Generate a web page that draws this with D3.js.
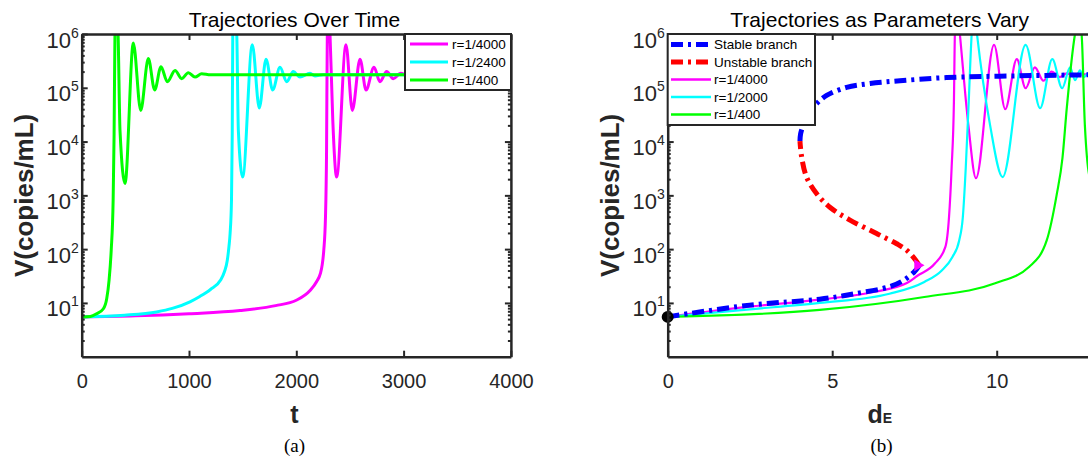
<!DOCTYPE html>
<html>
<head>
<meta charset="utf-8">
<title>Trajectories</title>
<script src="https://d3js.org/d3.v7.min.js"></script>
<style>
  body { margin: 0; background: #fff; }
  svg { display: block; font-family: "Liberation Sans", Arial, sans-serif; }
  .axis path, .axis line { stroke: #262626; }
  .axis path { stroke-width: 2.5; }
  .axis line { stroke-width: 2; }
  .axis text { fill: #262626; font-size: 20px; }
</style>
</head>
<body>
<div id="chart"></div>
<script>
// (a) trajectories over time, V in copies/mL
const tMag = [0, 500, 1000, 1475, 1807, 2000, 2128, 2190, 2224, 2242, 2256, 2272, 2282, 2289, 2302, 2314, 2340, 2376, 2463, 2522, 2594, 2650, 2724, 2780, 2842, 2904, 2973, 3030, 3300];
const vMag = [5.5, 5.75, 6.3, 7.2, 8.9, 11.2, 17, 25, 35, 52, 95, 400, 6900, 1e6, 2.8e6, 1e6, 2.5e4, 2190, 6.3e5, 3.8e4, 3.4e5, 9.1e4, 2.4e5, 1.3e5, 2.0e5, 1.48e5, 1.86e5, 1.72e5, 1.74e5];

const tCyan = [0, 400, 699, 844, 1009, 1101, 1200, 1293, 1330, 1357, 1372, 1383, 1396, 1403, 1408, 1426, 1445, 1460, 1500, 1590, 1655, 1718, 1780, 1848, 1911, 1972, 2034, 2128, 2174, 2250, 3300];
const vCyan = [5.5, 5.9, 6.8, 7.9, 10.5, 13.2, 17.8, 26.3, 38, 62, 110, 195, 810, 1.4e4, 1e6, 2.8e6, 1e6, 1.6e4, 2190, 6.3e5, 4.2e4, 3.4e5, 9.1e4, 2.4e5, 1.3e5, 2.0e5, 1.58e5, 1.86e5, 1.66e5, 1.74e5, 1.74e5];

const tGreen = [0, 80, 140, 202, 233, 255, 275, 293, 302, 310, 325, 339, 357, 404, 481, 550, 621, 680, 739, 798, 870, 932, 994, 1056, 1118, 1200, 3300];
const vGreen = [5.5, 5.6, 6.3, 7.8, 12, 26.3, 95, 810, 1.4e4, 1e6, 2.8e6, 1e6, 1.6e4, 1660, 6.8e5, 3.8e4, 3.5e5, 9.1e4, 2.45e5, 1.3e5, 2.1e5, 1.48e5, 1.9e5, 1.58e5, 1.82e5, 1.74e5, 1.74e5];

// (b) trajectories as d_E varies, with the equilibrium branches
const dStableLow = [0, 2.49, 4.62, 5.68, 6.74, 7.17, 7.48, 7.62, 7.64];
const vStableLow = [5.5, 9.1, 11.7, 14.8, 20, 26.3, 37, 47, 50];
const dUnstable = [7.64, 7.54, 7.27, 6.96, 6.35, 5.54, 4.93, 4.53, 4.22, 4.07, 4.02];
const vUnstable = [50, 62, 95, 126, 195, 347, 600, 1070, 2190, 5250, 1.02e4];
const dStableUp = [4.02, 4.04, 4.12, 4.30, 4.53, 4.83, 5.44, 6.15, 7.06, 8.48, 10.5, 12.74, 15];
const vStableUp = [1.02e4, 1.4e4, 2.0e4, 3.5e4, 5.1e4, 7.2e4, 1.02e5, 1.2e5, 1.35e5, 1.55e5, 1.66e5, 1.74e5, 1.78e5];

const dMag = [0, 2.49, 4.62, 6.21, 7.27, 7.59, 8.12, 8.44, 8.55, 8.63, 8.70, 8.73, 8.81, 8.88, 9.14, 9.37, 9.92, 10.26, 10.61, 10.88, 11.16, 11.42, 11.67, 11.92, 12.13, 12.33, 12.6, 15];
const vMagB = [5.5, 8.5, 11.5, 15.8, 23.4, 32, 54, 110, 390, 3300, 5.6e4, 1e6, 2.8e6, 1e6, 2.0e4, 2090, 6.3e5, 4.0e4, 3.4e5, 9.8e4, 2.4e5, 1.35e5, 2.0e5, 1.58e5, 1.86e5, 1.66e5, 1.78e5, 1.78e5];

const dCyan = [0, 2.49, 4.62, 6.74, 7.80, 8.33, 8.65, 8.86, 8.97, 9.06, 9.15, 9.24, 9.32, 9.40, 9.80, 10.18, 10.88, 11.32, 11.69, 11.99, 12.23, 12.38, 12.53, 12.65, 12.8, 13.0, 15];
const vCyanB = [5.5, 7.6, 10, 14.8, 24.5, 40, 71, 145, 390, 3300, 5.6e4, 1e6, 2.8e6, 1e6, 2.0e4, 2190, 6.3e5, 4.2e4, 3.4e5, 9.8e4, 2.4e5, 1.38e5, 2.1e5, 1.58e5, 1.9e5, 1.66e5, 1.78e5];

const dGreen = [0, 4.62, 7.80, 9.93, 10.99, 11.52, 11.82, 12.0, 12.13, 12.38, 12.48, 12.58, 12.68, 12.85, 13.1, 13.5];
const vGreenB = [5.5, 7.4, 12.9, 23, 47, 145, 1000, 5000, 4.2e4, 1e6, 2.0e6, 1e6, 2.0e4, 2000, 1600, 6.3e5];

const yTicks = [1e1, 1e2, 1e3, 1e4, 1e5, 1e6];
const yMinor = [];
for (let k = 0; k < 6; k++) for (let m = 2; m <= 9; m++) yMinor.push(m * Math.pow(10, k));

const W = 1088, H = 457;
const svg = d3.select('#chart').append('svg').attr('width', W).attr('height', H);

const plotTop = 34, plotBot = 356.7;
const y = d3.scaleLog().domain([1, 1e6]).range([plotBot, plotTop]);
const xA = d3.scaleLinear().domain([0, 4000]).range([81.7, 510.9]);
const xB = d3.scaleLinear().domain([0, 15]).range([667.7, 667.7 + 15 * 32.9]);

function clip(id, x) {
    svg.append('clipPath').attr('id', id).append('rect')
        .attr('x', x.range()[0]).attr('y', plotTop)
        .attr('width', x.range()[1] - x.range()[0]).attr('height', plotBot - plotTop);
}
clip('clipA', xA);
clip('clipB', xB);

function drawLine(x, xs, vs, color, width, id, curve, dash) {
    const pts = xs.map((d, i) => [d, vs[i]]);
    const line = d3.line().x(d => x(d[0])).y(d => y(d[1])).curve(curve || d3.curveMonotoneX);
    const p = svg.append('path')
        .attr('clip-path', `url(#${id})`)
        .attr('d', line(pts))
        .attr('fill', 'none')
        .attr('stroke', color)
        .attr('stroke-width', width)
        .attr('stroke-linejoin', 'round');
    if (dash) p.attr('stroke-dasharray', dash);
}

function frame(x, xTicks, xLabels) {
    const [x0, x1] = x.range();
    // bottom
    svg.append('g').attr('class', 'axis').attr('transform', `translate(0,${plotBot})`)
        .call(d3.axisBottom(x).tickValues(xTicks).tickSize(-6).tickSizeOuter(0).tickPadding(17)
            .tickFormat(d => xLabels.includes(d) ? d3.format('d')(d) : ''));
    // top
    svg.append('g').attr('class', 'axis').attr('transform', `translate(0,${plotTop})`)
        .call(d3.axisTop(x).tickValues(xTicks).tickSize(-6).tickSizeOuter(0).tickFormat(''));
    // left + right
    [[x0, d3.axisLeft], [x1, d3.axisRight]].forEach(([xp, ax]) => {
        svg.append('g').attr('class', 'axis').attr('transform', `translate(${xp},0)`)
            .call(ax(y).tickValues(yTicks).tickSize(-6).tickSizeOuter(0).tickFormat(''));
        svg.append('g').attr('class', 'axis').attr('transform', `translate(${xp},0)`)
            .call(ax(y).tickValues(yMinor).tickSize(-3).tickSizeOuter(0).tickFormat(''))
            .call(g => g.select('.domain').remove());
    });
    // y tick labels 10^k
    yTicks.forEach(v => {
        const t = svg.append('text')
            .attr('x', x0 - 3).attr('y', y(v) + 13.5)
            .attr('text-anchor', 'end')
            .attr('fill', '#262626')
            .style('font-size', '22px');
        t.append('tspan').text('10');
        t.append('tspan').attr('dy', -10).style('font-size', '14px').text(Math.round(Math.log10(v)));
    });
    // y label
    svg.append('text')
        .attr('transform', `translate(${x0 - 58},${(plotTop + plotBot) / 2}) rotate(-90)`)
        .attr('text-anchor', 'middle').attr('dominant-baseline', 'central')
        .attr('fill', '#262626')
        .style('font-size', '26px').style('font-weight', 'bold')
        .text('V(copies/mL)');
}

function legend(x, yTop, w, rows, sx0, sx1, tx, y0, step) {
    svg.append('rect').attr('x', x).attr('y', yTop).attr('width', w)
        .attr('height', rows.length * step + (y0 - yTop) * 2 - step)
        .attr('fill', '#fff').attr('stroke', '#262626').attr('stroke-width', 2);
    rows.forEach((r, i) => {
        const yy = y0 + i * step;
        const l = svg.append('line').attr('x1', sx0).attr('x2', sx1).attr('y1', yy).attr('y2', yy)
            .attr('stroke', r.color).attr('stroke-width', r.width);
        if (r.dash) l.attr('stroke-dasharray', r.dash);
        svg.append('text').attr('x', tx).attr('y', yy).attr('dominant-baseline', 'central')
            .style('font-size', '13.5px').attr('fill', '#000').text(r.name);
    });
}

// ---- panel (a)
drawLine(xA, tMag, vMag, '#ff00ff', 3, 'clipA');
drawLine(xA, tCyan, vCyan, '#00ffff', 3, 'clipA');
drawLine(xA, tGreen, vGreen, '#00ff00', 3, 'clipA');
frame(xA, [0, 1000, 2000, 3000, 4000], [0, 1000, 2000, 3000, 4000]);
legend(405, plotTop, 106, [
    {name: 'r=1/4000', color: '#ff00ff', width: 3},
    {name: 'r=1/2400', color: '#00ffff', width: 3},
    {name: 'r=1/400', color: '#00ff00', width: 3}
], 410, 448, 452, 44, 18);

// ---- panel (b)
const dash = '12,5,3,5';
drawLine(xB, dMag, vMagB, '#ff00ff', 2.2, 'clipB');
drawLine(xB, dCyan, vCyanB, '#00ffff', 2.2, 'clipB');
drawLine(xB, dGreen, vGreenB, '#00ff00', 2.2, 'clipB');
drawLine(xB, dStableLow, vStableLow, '#0000ff', 5, 'clipB', d3.curveCatmullRom, dash);
drawLine(xB, dStableUp, vStableUp, '#0000ff', 5, 'clipB', d3.curveCatmullRom, dash);
drawLine(xB, dUnstable, vUnstable, '#ff0000', 5, 'clipB', d3.curveCatmullRom, dash);
// fold marker and initial value
svg.append('path').attr('d', d3.symbol(d3.symbolTriangle, 60)())
    .attr('transform', `translate(${xB(7.6)},${y(50)}) rotate(90)`).attr('fill', '#ff00ff');
svg.append('circle').attr('cx', xB(0)).attr('cy', y(5.5)).attr('r', 6).attr('fill', '#000');
frame(xB, [0, 5, 10, 15], [0, 5, 10]);
legend(667.7, plotTop, 147.3, [
    {name: 'Stable branch', color: '#0000ff', width: 5, dash: dash},
    {name: 'Unstable branch', color: '#ff0000', width: 5, dash: dash},
    {name: 'r=1/4000', color: '#ff00ff', width: 2.5},
    {name: 'r=1/2000', color: '#00ffff', width: 2.5},
    {name: 'r=1/400', color: '#00ff00', width: 2.5}
], 671, 711, 714, 44.5, 17.5);

// titles and x labels
svg.append('text').attr('x', 294.5).attr('y', 26.5).attr('text-anchor', 'middle')
    .style('font-size', '21px').text('Trajectories Over Time');
svg.append('text').attr('x', 879.7).attr('y', 26.5).attr('text-anchor', 'middle')
    .style('font-size', '21px').text('Trajectories as Parameters Vary');
svg.append('text').attr('x', 294.5).attr('y', 422.5).attr('text-anchor', 'middle')
    .attr('fill', '#262626').style('font-size', '25px').style('font-weight', 'bold').text('t');
const dl = svg.append('text').attr('x', 879.7).attr('y', 422.5).attr('text-anchor', 'middle')
    .attr('fill', '#262626').style('font-weight', 'bold');
dl.append('tspan').style('font-size', '25px').text('d');
dl.append('tspan').style('font-size', '14px').text('E');
svg.append('text').attr('x', 294.5).attr('y', 452).attr('text-anchor', 'middle')
    .style('font-family', '"Liberation Serif", serif').style('font-size', '19px').text('(a)');
svg.append('text').attr('x', 881.6).attr('y', 452).attr('text-anchor', 'middle')
    .style('font-family', '"Liberation Serif", serif').style('font-size', '19px').text('(b)');
</script>
</body>
</html>
